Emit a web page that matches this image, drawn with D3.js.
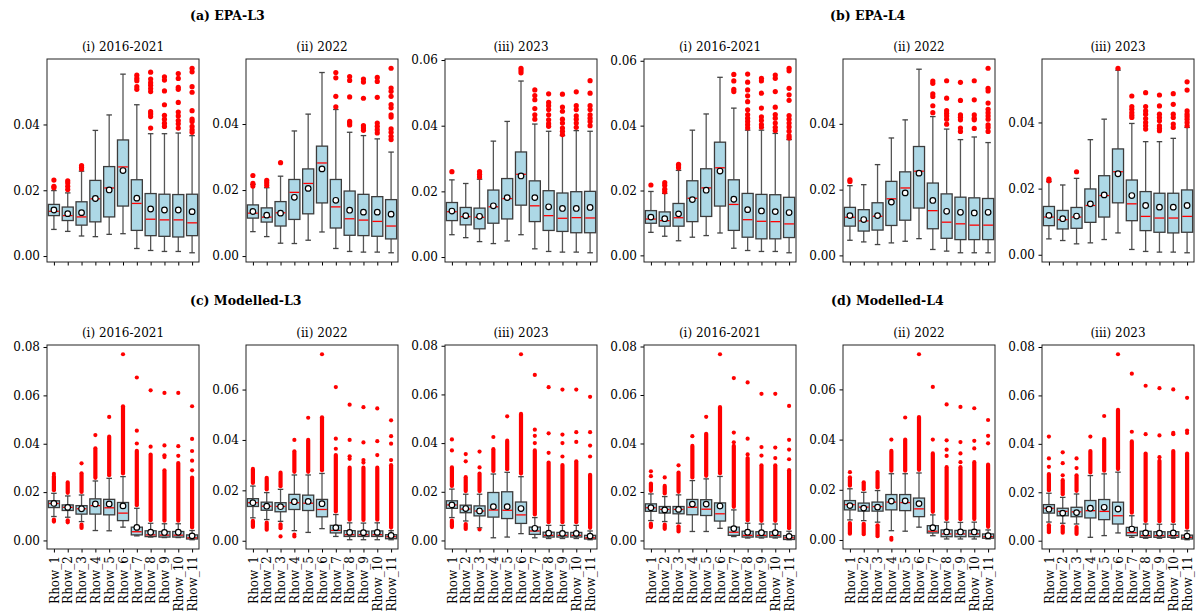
<!DOCTYPE html>
<html>
<head>
<meta charset="utf-8">
<script src="https://cdn.jsdelivr.net/npm/d3@7"></script>
<style>
  body { margin: 0; background: #fff; }
  svg { font-family: "DejaVu Serif", serif; }
</style>
</head>
<body>
<svg id="chart" width="1196" height="615"></svg>
<script>
var categories = ['Rhow_1', 'Rhow_2', 'Rhow_3', 'Rhow_4', 'Rhow_5', 'Rhow_6',
                  'Rhow_7', 'Rhow_8', 'Rhow_9', 'Rhow_10', 'Rhow_11'];
var periods = ['(i) 2016-2021', '(ii) 2022', '(iii) 2023'];
var groupTitles = ['(a) EPA-L3', '(b) EPA-L4', '(c) Modelled-L3', '(d) Modelled-L4'];
var yTicks = [0, 0.02, 0.04, 0.06, 0.08];

// box stats per Rhow: [whisker low, q1, median, q3, whisker high, mean]
var epaL3_1621 = [
  [0.0081, 0.0123, 0.0136, 0.0157, 0.0199, 0.0140],
  [0.0075, 0.0108, 0.0123, 0.0149, 0.0192, 0.0129],
  [0.0061, 0.0094, 0.0119, 0.0165, 0.0258, 0.0132],
  [0.0059, 0.0104, 0.0174, 0.0230, 0.0382, 0.0175],
  [0.0066, 0.0119, 0.0207, 0.0272, 0.0429, 0.0201],
  [0.0068, 0.0152, 0.0271, 0.0353, 0.0553, 0.0260],
  [0.0023, 0.0078, 0.0160, 0.0232, 0.0460, 0.0176],
  [0.0017, 0.0062, 0.0112, 0.0190, 0.0372, 0.0143],
  [0.0014, 0.0060, 0.0110, 0.0188, 0.0372, 0.0140],
  [0.0014, 0.0058, 0.0110, 0.0187, 0.0374, 0.0140],
  [0.0010, 0.0062, 0.0101, 0.0188, 0.0366, 0.0135]
];
var epaL3_1621_out = [
  [0.0231, 0.0212, 0.0208],
  [0.0229, 0.0222, 0.0212, 0.0202],
  [0.0275, 0.0270, 0.0265],
  [], [], [],
  [0.0550, 0.0540, 0.0533, 0.0515, 0.0507],
  [0.0559, 0.0538, 0.0527, 0.0519, 0.0509, 0.0500, 0.0439, 0.0432, 0.0424, 0.0389],
  [0.0545, 0.0535, 0.0502, 0.0460, 0.0428, 0.0416, 0.0404, 0.0394],
  [0.0555, 0.0540, 0.0513, 0.0507, 0.0467, 0.0438, 0.0426, 0.0412, 0.0402, 0.0389],
  [0.0571, 0.0560, 0.0515, 0.0498, 0.0442, 0.0416, 0.0409, 0.0394, 0.0384, 0.0376]
];

var epaL3_2022 = [
  [0.0074, 0.0115, 0.0130, 0.0155, 0.0217, 0.0135],
  [0.0059, 0.0103, 0.0118, 0.0146, 0.0207, 0.0124],
  [0.0039, 0.0091, 0.0131, 0.0165, 0.0242, 0.0130],
  [0.0038, 0.0111, 0.0193, 0.0232, 0.0379, 0.0178],
  [0.0048, 0.0128, 0.0220, 0.0264, 0.0430, 0.0205],
  [0.0073, 0.0161, 0.0282, 0.0333, 0.0556, 0.0264],
  [0.0023, 0.0085, 0.0149, 0.0232, 0.0444, 0.0169],
  [0.0014, 0.0063, 0.0113, 0.0197, 0.0375, 0.0139],
  [0.0012, 0.0062, 0.0109, 0.0187, 0.0365, 0.0133],
  [0.0012, 0.0060, 0.0105, 0.0180, 0.0355, 0.0133],
  [0.0010, 0.0052, 0.0091, 0.0171, 0.0315, 0.0127]
];
var epaL3_2022_out = [
  [0.0244, 0.0220, 0.0212],
  [0.0229, 0.0222, 0.0214],
  [0.0283],
  [], [], [],
  [0.0556, 0.0540, 0.0484, 0.0452],
  [0.0544, 0.0532, 0.0482, 0.0408, 0.0403, 0.0397],
  [0.0536, 0.0527, 0.0478, 0.0395, 0.0388, 0.0381],
  [0.0541, 0.0529, 0.0481, 0.0403, 0.0393, 0.0383, 0.0373],
  [0.0569, 0.0509, 0.0499, 0.0484, 0.0459, 0.0449, 0.0428, 0.0421, 0.0385, 0.0375, 0.0363, 0.0353]
];

var epaL3_2023 = [
  [0.0068, 0.0111, 0.0138, 0.0166, 0.0235, 0.0140],
  [0.0059, 0.0098, 0.0123, 0.0151, 0.0224, 0.0126],
  [0.0047, 0.0086, 0.0121, 0.0149, 0.0237, 0.0124],
  [0.0041, 0.0103, 0.0153, 0.0204, 0.0353, 0.0156],
  [0.0049, 0.0116, 0.0178, 0.0239, 0.0413, 0.0181],
  [0.0068, 0.0158, 0.0252, 0.0320, 0.0536, 0.0247],
  [0.0025, 0.0108, 0.0156, 0.0232, 0.0405, 0.0181],
  [0.0017, 0.0081, 0.0126, 0.0202, 0.0383, 0.0153],
  [0.0015, 0.0078, 0.0118, 0.0195, 0.0370, 0.0148],
  [0.0015, 0.0074, 0.0120, 0.0199, 0.0385, 0.0148],
  [0.0013, 0.0074, 0.0119, 0.0200, 0.0383, 0.0151]
];
var epaL3_2023_out = [
  [0.0260],
  [],
  [0.0260, 0.0252, 0.0244],
  [], [],
  [0.0575, 0.0568, 0.0561],
  [0.0509, 0.0492, 0.0479, 0.0452, 0.0433, 0.0420],
  [0.0497, 0.0471, 0.0461, 0.0449, 0.0433, 0.0418, 0.0406, 0.0398],
  [0.0496, 0.0457, 0.0444, 0.0420, 0.0408, 0.0393, 0.0383, 0.0373],
  [0.0503, 0.0461, 0.0449, 0.0430, 0.0420, 0.0408, 0.0395],
  [0.0537, 0.0499, 0.0461, 0.0449, 0.0433, 0.0423, 0.0413, 0.0400]
];

var epaL4_1621 = [
  [0.0071, 0.0099, 0.0112, 0.0138, 0.0197, 0.0118],
  [0.0059, 0.0090, 0.0107, 0.0134, 0.0191, 0.0113],
  [0.0045, 0.0090, 0.0116, 0.0160, 0.0262, 0.0128],
  [0.0056, 0.0104, 0.0176, 0.0230, 0.0386, 0.0172],
  [0.0061, 0.0120, 0.0208, 0.0267, 0.0436, 0.0201],
  [0.0069, 0.0152, 0.0270, 0.0349, 0.0549, 0.0260],
  [0.0022, 0.0077, 0.0157, 0.0233, 0.0454, 0.0173],
  [0.0015, 0.0056, 0.0110, 0.0191, 0.0386, 0.0141],
  [0.0012, 0.0051, 0.0105, 0.0188, 0.0386, 0.0137],
  [0.0012, 0.0051, 0.0104, 0.0187, 0.0376, 0.0135],
  [0.0008, 0.0055, 0.0097, 0.0179, 0.0357, 0.0132]
];
var epaL4_1621_out = [
  [0.0217],
  [0.0224, 0.0216, 0.0204, 0.0196],
  [0.0281, 0.0276, 0.0270],
  [], [], [],
  [0.0558, 0.0538, 0.0512, 0.0505],
  [0.0559, 0.0534, 0.0510, 0.0492, 0.0474, 0.0449, 0.0434, 0.0423, 0.0413, 0.0403, 0.0393],
  [0.0546, 0.0538, 0.0500, 0.0454, 0.0427, 0.0416, 0.0403, 0.0395],
  [0.0556, 0.0546, 0.0505, 0.0457, 0.0434, 0.0423, 0.0408, 0.0395, 0.0385],
  [0.0577, 0.0569, 0.0515, 0.0495, 0.0478, 0.0431, 0.0420, 0.0408, 0.0396, 0.0383, 0.0369, 0.0362]
];

var epaL4_2022 = [
  [0.0046, 0.0089, 0.0116, 0.0146, 0.0212, 0.0121],
  [0.0041, 0.0074, 0.0105, 0.0139, 0.0215, 0.0109],
  [0.0033, 0.0077, 0.0119, 0.0160, 0.0276, 0.0121],
  [0.0038, 0.0091, 0.0172, 0.0225, 0.0357, 0.0162],
  [0.0043, 0.0107, 0.0205, 0.0254, 0.0412, 0.0190],
  [0.0051, 0.0144, 0.0256, 0.0331, 0.0566, 0.0250],
  [0.0018, 0.0081, 0.0136, 0.0220, 0.0422, 0.0167],
  [0.0013, 0.0052, 0.0101, 0.0187, 0.0384, 0.0134],
  [0.0008, 0.0048, 0.0096, 0.0177, 0.0352, 0.0131],
  [0.0008, 0.0048, 0.0092, 0.0175, 0.0360, 0.0129],
  [0.0008, 0.0048, 0.0092, 0.0173, 0.0343, 0.0131]
];
var epaL4_2022_out = [
  [0.0230, 0.0225],
  [], [], [], [], [],
  [0.0530, 0.0523, 0.0491, 0.0483, 0.0455, 0.0434],
  [0.0531, 0.0478, 0.0440, 0.0432, 0.0424, 0.0414, 0.0399],
  [0.0526, 0.0471, 0.0427, 0.0420, 0.0412, 0.0387, 0.0377],
  [0.0531, 0.0473, 0.0427, 0.0417, 0.0412, 0.0386],
  [0.0569, 0.0508, 0.0500, 0.0463, 0.0444, 0.0434, 0.0424, 0.0414, 0.0397, 0.0389, 0.0377]
];

var epaL4_2023 = [
  [0.0048, 0.0088, 0.0114, 0.0146, 0.0221, 0.0119],
  [0.0043, 0.0078, 0.0106, 0.0134, 0.0211, 0.0109],
  [0.0033, 0.0080, 0.0114, 0.0143, 0.0231, 0.0117],
  [0.0036, 0.0098, 0.0149, 0.0199, 0.0348, 0.0154],
  [0.0046, 0.0114, 0.0179, 0.0239, 0.0410, 0.0181],
  [0.0066, 0.0157, 0.0251, 0.0320, 0.0558, 0.0245],
  [0.0016, 0.0103, 0.0154, 0.0226, 0.0397, 0.0179],
  [0.0010, 0.0073, 0.0116, 0.0191, 0.0342, 0.0149],
  [0.0008, 0.0068, 0.0111, 0.0186, 0.0342, 0.0144],
  [0.0008, 0.0066, 0.0111, 0.0186, 0.0352, 0.0144],
  [0.0006, 0.0068, 0.0116, 0.0196, 0.0385, 0.0149]
];
var epaL4_2023_out = [
  [0.0229, 0.0224],
  [],
  [0.0251],
  [], [],
  [0.0564],
  [0.0480, 0.0448, 0.0440, 0.0430, 0.0422, 0.0415],
  [0.0490, 0.0448, 0.0435, 0.0425, 0.0412, 0.0400, 0.0390, 0.0380],
  [0.0483, 0.0450, 0.0425, 0.0415, 0.0405, 0.0390, 0.0382, 0.0375],
  [0.0487, 0.0455, 0.0425, 0.0415, 0.0395, 0.0385],
  [0.0523, 0.0498, 0.0435, 0.0425, 0.0418, 0.0410, 0.0400, 0.0390]
];

// Modelled: so many fliers that they merge into solid runs.
// *_run = [bottom of the low run (or null), top of the high run]; *_out = the sparse ones
var modL3_1621 = [
  [0.0099, 0.0136, 0.0153, 0.0164, 0.0195, 0.0153],
  [0.0096, 0.0124, 0.0137, 0.0147, 0.0184, 0.0137],
  [0.0078, 0.0109, 0.0131, 0.0144, 0.0188, 0.0131],
  [0.0041, 0.0109, 0.0144, 0.0172, 0.0246, 0.0151],
  [0.0040, 0.0106, 0.0135, 0.0170, 0.0257, 0.0151],
  [0.0055, 0.0082, 0.0113, 0.0157, 0.0264, 0.0143],
  [0.0019, 0.0023, 0.0036, 0.0055, 0.0133, 0.0054],
  [0.0014, 0.0016, 0.0023, 0.0040, 0.0071, 0.0034],
  [0.0012, 0.0014, 0.0022, 0.0037, 0.0069, 0.0033],
  [0.0012, 0.0014, 0.0022, 0.0037, 0.0069, 0.0034],
  [0.0003, 0.0006, 0.0011, 0.0023, 0.0041, 0.0019]
];
var modL3_1621_run = [
  [0.0078, 0.0265], [0.0075, 0.0240], [0.0052, 0.0278], [null, 0.0381], [null, 0.0429],
  [null, 0.0555], [null, 0.0371], [null, 0.0355], [null, 0.0290], [null, 0.0320], [null, 0.0260]
];
var modL3_1621_out = [
  [0.0275], [], [0.0319], [0.0436], [0.0511], [0.0770],
  [0.0401, 0.0454, 0.0674], [0.0388, 0.0621], [0.0345, 0.0352, 0.0393, 0.0610],
  [0.0350, 0.0390, 0.0610], [0.0290, 0.0330, 0.0370, 0.0420, 0.0555]
];

var modL3_2022 = [
  [0.0091, 0.0136, 0.0151, 0.0167, 0.0217, 0.0151],
  [0.0084, 0.0121, 0.0137, 0.0153, 0.0191, 0.0137],
  [0.0077, 0.0115, 0.0136, 0.0151, 0.0204, 0.0135],
  [0.0040, 0.0124, 0.0151, 0.0184, 0.0261, 0.0155],
  [0.0033, 0.0120, 0.0149, 0.0181, 0.0261, 0.0156],
  [0.0048, 0.0095, 0.0124, 0.0164, 0.0267, 0.0147],
  [0.0017, 0.0031, 0.0041, 0.0061, 0.0104, 0.0052],
  [0.0004, 0.0017, 0.0024, 0.0040, 0.0071, 0.0033],
  [0.0004, 0.0017, 0.0024, 0.0038, 0.0070, 0.0032],
  [0.0004, 0.0017, 0.0024, 0.0039, 0.0071, 0.0033],
  [0.0004, 0.0008, 0.0016, 0.0024, 0.0040, 0.0021]
];
var modL3_2022_run = [
  [0.0055, 0.0285], [0.0044, 0.0250], [0.0050, 0.0270], [null, 0.0355], [null, 0.0400],
  [null, 0.0490], [null, 0.0340], [null, 0.0290], [null, 0.0290], [null, 0.0290], [null, 0.0300]
];
var modL3_2022_out = [
  [], [], [0.0017], [0.0400, 0.0024, 0.0017], [0.0488], [0.0740],
  [0.0365, 0.0405, 0.0610], [0.0325, 0.0335, 0.0400, 0.0540], [0.0310, 0.0320, 0.0390, 0.0530],
  [0.0340, 0.0395, 0.0525], [0.0320, 0.0385, 0.0415, 0.0478]
];

var modL3_2023 = [
  [0.0094, 0.0132, 0.0146, 0.0163, 0.0211, 0.0146],
  [0.0080, 0.0114, 0.0129, 0.0145, 0.0190, 0.0131],
  [0.0052, 0.0101, 0.0121, 0.0142, 0.0190, 0.0121],
  [0.0011, 0.0096, 0.0125, 0.0197, 0.0273, 0.0139],
  [0.0014, 0.0090, 0.0124, 0.0200, 0.0280, 0.0139],
  [0.0028, 0.0070, 0.0105, 0.0158, 0.0262, 0.0131],
  [0.0011, 0.0025, 0.0039, 0.0055, 0.0094, 0.0050],
  [0.0008, 0.0014, 0.0021, 0.0034, 0.0062, 0.0030],
  [0.0008, 0.0014, 0.0021, 0.0033, 0.0062, 0.0029],
  [0.0008, 0.0014, 0.0021, 0.0033, 0.0062, 0.0029],
  [0.0003, 0.0006, 0.0011, 0.0021, 0.0039, 0.0018]
];
var modL3_2023_run = [
  [0.0055, 0.0300], [0.0047, 0.0260], [null, 0.0275], [null, 0.0375], [null, 0.0410],
  [null, 0.0520], [null, 0.0370], [null, 0.0320], [null, 0.0310], [null, 0.0325], [null, 0.0270]
];
var modL3_2023_out = [
  [0.0370, 0.0415], [0.0325, 0.0355], [0.0300, 0.0365, 0.0045], [0.0425], [0.0510], [0.0765],
  [0.0400, 0.0430, 0.0455, 0.0680], [0.0360, 0.0440, 0.0630], [0.0345, 0.0400, 0.0435, 0.0620],
  [0.0405, 0.0445, 0.0620], [0.0345, 0.0390, 0.0445, 0.0590]
];

var modL4_1621 = [
  [0.0082, 0.0120, 0.0135, 0.0151, 0.0192, 0.0135],
  [0.0078, 0.0113, 0.0128, 0.0140, 0.0181, 0.0126],
  [0.0071, 0.0110, 0.0128, 0.0140, 0.0188, 0.0128],
  [0.0037, 0.0106, 0.0137, 0.0169, 0.0247, 0.0150],
  [0.0037, 0.0103, 0.0129, 0.0168, 0.0254, 0.0150],
  [0.0050, 0.0080, 0.0110, 0.0155, 0.0264, 0.0142],
  [0.0016, 0.0021, 0.0034, 0.0055, 0.0126, 0.0049],
  [0.0010, 0.0014, 0.0021, 0.0038, 0.0071, 0.0034],
  [0.0010, 0.0014, 0.0021, 0.0036, 0.0068, 0.0032],
  [0.0010, 0.0014, 0.0021, 0.0036, 0.0068, 0.0032],
  [0.0003, 0.0004, 0.0011, 0.0020, 0.0038, 0.0017]
];
var modL4_1621_run = [
  [0.0055, 0.0235], [0.0048, 0.0225], [0.0037, 0.0280], [null, 0.0390], [null, 0.0440],
  [null, 0.0550], [null, 0.0390], [null, 0.0340], [null, 0.0310], [null, 0.0310], [null, 0.0290]
];
var modL4_1621_out = [
  [0.0265, 0.0285], [0.0260], [0.0310], [0.0430], [0.0510], [0.0768],
  [0.0405, 0.0445, 0.0670], [0.0355, 0.0420, 0.0652], [0.0350, 0.0385, 0.0605],
  [0.0340, 0.0383, 0.0605], [0.0335, 0.0375, 0.0415, 0.0555]
];

var modL4_2022 = [
  [0.0080, 0.0120, 0.0141, 0.0157, 0.0204, 0.0137],
  [0.0077, 0.0115, 0.0131, 0.0147, 0.0190, 0.0127],
  [0.0071, 0.0115, 0.0133, 0.0151, 0.0197, 0.0131],
  [0.0037, 0.0120, 0.0151, 0.0181, 0.0264, 0.0155],
  [0.0035, 0.0117, 0.0149, 0.0181, 0.0264, 0.0156],
  [0.0051, 0.0093, 0.0124, 0.0167, 0.0267, 0.0145],
  [0.0017, 0.0028, 0.0035, 0.0057, 0.0100, 0.0049],
  [0.0004, 0.0013, 0.0024, 0.0040, 0.0071, 0.0032],
  [0.0004, 0.0013, 0.0024, 0.0038, 0.0070, 0.0032],
  [0.0004, 0.0013, 0.0024, 0.0039, 0.0071, 0.0032],
  [0.0004, 0.0007, 0.0013, 0.0024, 0.0040, 0.0017]
];
var modL4_2022_run = [
  [0.0025, 0.0250], [0.0023, 0.0230], [0.0015, 0.0270], [null, 0.0355], [null, 0.0400],
  [null, 0.0490], [null, 0.0345], [null, 0.0290], [null, 0.0290], [null, 0.0310], [null, 0.0300]
];
var modL4_2022_out = [
  [0.0270], [], [], [0.0400, 0.0008, 0.0001], [0.0488], [0.0740],
  [0.0400, 0.0610], [0.0335, 0.0360, 0.0397, 0.0540], [0.0310, 0.0345, 0.0390, 0.0530],
  [0.0365, 0.0395, 0.0525], [0.0385, 0.0415, 0.0478]
];

var modL4_2023 = [
  [0.0077, 0.0114, 0.0134, 0.0149, 0.0196, 0.0130],
  [0.0072, 0.0103, 0.0121, 0.0134, 0.0179, 0.0114],
  [0.0069, 0.0099, 0.0119, 0.0138, 0.0193, 0.0116],
  [0.0014, 0.0094, 0.0124, 0.0166, 0.0269, 0.0134],
  [0.0021, 0.0087, 0.0121, 0.0170, 0.0276, 0.0138],
  [0.0032, 0.0069, 0.0103, 0.0159, 0.0283, 0.0131],
  [0.0014, 0.0021, 0.0033, 0.0055, 0.0103, 0.0048],
  [0.0010, 0.0014, 0.0021, 0.0039, 0.0069, 0.0032],
  [0.0010, 0.0014, 0.0021, 0.0037, 0.0068, 0.0031],
  [0.0010, 0.0014, 0.0021, 0.0037, 0.0068, 0.0032],
  [0.0004, 0.0007, 0.0014, 0.0023, 0.0041, 0.0019]
];
var modL4_2023_run = [
  [0.0035, 0.0275], [0.0033, 0.0250], [0.0028, 0.0270], [null, 0.0370], [null, 0.0420],
  [null, 0.0540], [null, 0.0410], [null, 0.0360], [null, 0.0330], [null, 0.0370], [null, 0.0360]
];
var modL4_2023_out = [
  [0.0305, 0.0340, 0.0430], [0.0270, 0.0320, 0.0365], [0.0300, 0.0340], [0.0430], [0.0515], [0.0770],
  [0.0450, 0.0690], [0.0440, 0.0640], [0.0345, 0.0435, 0.0630],
  [0.0440, 0.0445, 0.0625], [0.0445, 0.0455, 0.0590]
];

var panels = [
  { row: 0, col: 0, stats: epaL3_1621, out: epaL3_1621_out, run: null },
  { row: 0, col: 1, stats: epaL3_2022, out: epaL3_2022_out, run: null },
  { row: 0, col: 2, stats: epaL3_2023, out: epaL3_2023_out, run: null },
  { row: 0, col: 3, stats: epaL4_1621, out: epaL4_1621_out, run: null },
  { row: 0, col: 4, stats: epaL4_2022, out: epaL4_2022_out, run: null },
  { row: 0, col: 5, stats: epaL4_2023, out: epaL4_2023_out, run: null },
  { row: 1, col: 0, stats: modL3_1621, out: modL3_1621_out, run: modL3_1621_run },
  { row: 1, col: 1, stats: modL3_2022, out: modL3_2022_out, run: modL3_2022_run },
  { row: 1, col: 2, stats: modL3_2023, out: modL3_2023_out, run: modL3_2023_run },
  { row: 1, col: 3, stats: modL4_1621, out: modL4_1621_out, run: modL4_1621_run },
  { row: 1, col: 4, stats: modL4_2022, out: modL4_2022_out, run: modL4_2022_run },
  { row: 1, col: 5, stats: modL4_2023, out: modL4_2023_out, run: modL4_2023_run }
];

// layout
var svg = d3.select('#chart');
var axLeft0 = 47, colStep = 199, axW = 152;
var rowTop = [59, 345], axH = [203, 204];
var boxFill = '#add8e6', edge = '#3c3c3c';

// group titles
var titlePos = [[190, 20], [830, 20], [190, 305], [831, 305]];
svg.selectAll('.gtitle')
    .data(groupTitles)
    .enter()
    .append('text')
    .attr('class', 'gtitle')
    .attr('x', (d, i) => titlePos[i][0])
    .attr('y', (d, i) => titlePos[i][1])
    .style('font-size', '12.5px')
    .style('font-weight', 'bold')
    .text(d => d);

panels.forEach(function(p) {
    var x0 = axLeft0 + p.col * colStep;
    var y0 = rowTop[p.row];
    var h = axH[p.row];
    var g = svg.append('g').attr('transform', 'translate(' + x0 + ',' + y0 + ')');

    // y range like matplotlib autoscale: data extent + 5% margins
    var vals = [];
    p.stats.forEach(s => { vals.push(s[0], s[4]); });
    p.out.forEach(o => { vals = vals.concat(o); });
    if (p.run) p.run.forEach(r => { if (r[0] !== null) vals.push(r[0]); vals.push(r[1]); });
    var ext = d3.extent(vals);
    var pad = (ext[1] - ext[0]) * 0.05;

    var x = d3.scaleLinear().domain([0.5, 11.5]).range([0, axW]);
    var y = d3.scaleLinear().domain([ext[0] - pad, ext[1] + pad]).range([h, 0]);
    var half = (x(1.4) - x(1));
    var capHalf = half / 2;
    var r = p.row === 0 ? 2.6 : 2.1;

    // subplot title
    g.append('text')
        .attr('x', axW / 2)
        .attr('y', -8)
        .attr('text-anchor', 'middle')
        .style('font-size', '12px')
        .text(periods[p.col % 3]);

    // axes
    var yAxis = d3.axisLeft(y)
        .tickValues(yTicks.filter(t => t >= y.domain()[0] && t <= y.domain()[1]))
        .tickFormat(d3.format('.2f'))
        .tickSizeOuter(0)
        .tickSize(3.5)
        .tickPadding(3.5);
    var ya = g.append('g').call(yAxis);
    ya.select('.domain').remove();
    ya.selectAll('text').style('font-size', '12px').style('font-family', '"DejaVu Serif", serif');

    var xAxis = d3.axisBottom(x)
        .tickValues(d3.range(1, 12))
        .tickFormat(p.row === 1 ? (d => categories[d - 1]) : '')
        .tickSizeOuter(0)
        .tickSize(3.5)
        .tickPadding(3.5);
    var xa = g.append('g').attr('transform', 'translate(0,' + h + ')').call(xAxis);
    xa.select('.domain').remove();
    xa.selectAll('text')
        .style('font-size', '12px')
        .style('font-family', '"DejaVu Serif", serif')
        .style('text-anchor', 'end')
        .attr('x', -7)
        .attr('y', 0)
        .attr('dy', '0.35em')
        .attr('transform', 'rotate(-90)');

    var boxes = g.selectAll('.bx')
        .data(p.stats)
        .enter()
        .append('g')
        .attr('class', 'bx');

    // whiskers
    boxes.append('line')
        .attr('x1', (d, i) => x(i + 1)).attr('x2', (d, i) => x(i + 1))
        .attr('y1', d => y(d[4])).attr('y2', d => y(d[3]))
        .attr('stroke', '#555').attr('stroke-width', 1.3);
    boxes.append('line')
        .attr('x1', (d, i) => x(i + 1)).attr('x2', (d, i) => x(i + 1))
        .attr('y1', d => y(d[1])).attr('y2', d => y(d[0]))
        .attr('stroke', '#555').attr('stroke-width', 1.3);
    // caps
    [0, 4].forEach(function(k) {
        boxes.append('line')
            .attr('x1', (d, i) => x(i + 1) - capHalf).attr('x2', (d, i) => x(i + 1) + capHalf)
            .attr('y1', d => y(d[k])).attr('y2', d => y(d[k]))
            .attr('stroke', '#444').attr('stroke-width', 1.3);
    });
    // boxes
    boxes.append('rect')
        .attr('x', (d, i) => x(i + 1) - half)
        .attr('width', 2 * half)
        .attr('y', d => y(d[3]))
        .attr('height', d => y(d[1]) - y(d[3]))
        .attr('fill', boxFill)
        .attr('stroke', edge)
        .attr('stroke-width', 1.3);
    // medians
    boxes.append('line')
        .attr('x1', (d, i) => x(i + 1) - half + 0.7).attr('x2', (d, i) => x(i + 1) + half - 0.7)
        .attr('y1', d => y(d[2])).attr('y2', d => y(d[2]))
        .attr('stroke', 'red').attr('stroke-width', 1.3);

    // merged runs of fliers
    if (p.run) {
        p.run.forEach(function(rn, i) {
            var s = p.stats[i];
            g.append('line')
                .attr('x1', x(i + 1)).attr('x2', x(i + 1))
                .attr('y1', y(s[4]) - r - 1).attr('y2', y(rn[1]))
                .attr('stroke', 'red').attr('stroke-width', 2 * r)
                .attr('stroke-linecap', 'round');
            if (rn[0] !== null) {
                g.append('line')
                    .attr('x1', x(i + 1)).attr('x2', x(i + 1))
                    .attr('y1', y(s[0]) + r + 1).attr('y2', y(rn[0]))
                    .attr('stroke', 'red').attr('stroke-width', 2 * r)
                    .attr('stroke-linecap', 'round');
            }
        });
    }
    // fliers
    p.out.forEach(function(list, i) {
        g.selectAll(null)
            .data(list)
            .enter()
            .append('circle')
            .attr('cx', x(i + 1))
            .attr('cy', d => y(d))
            .attr('r', r)
            .attr('fill', 'red');
    });
    // means
    boxes.append('circle')
        .attr('cx', (d, i) => x(i + 1))
        .attr('cy', d => y(d[5]))
        .attr('r', 2.8)
        .attr('fill', 'white')
        .attr('stroke', 'black')
        .attr('stroke-width', 1.2);

    // frame
    g.append('rect')
        .attr('width', axW).attr('height', h)
        .attr('fill', 'none')
        .attr('stroke', '#222')
        .attr('stroke-width', 1);
});
</script>
</body>
</html>
